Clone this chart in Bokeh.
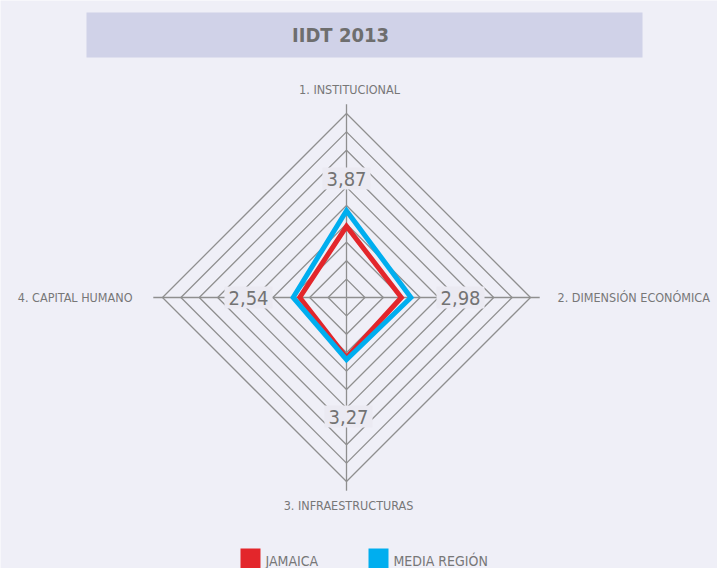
from bokeh.plotting import figure
from bokeh.models import Range1d, Label
from bokeh.embed import file_html
from bokeh.resources import INLINE

# ---- data ----
axes_names = ["1. INSTITUCIONAL", "2. DIMENSIÓN ECONÓMICA", "3. INFRAESTRUCTURAS", "4. CAPITAL HUMANO"]
jamaica = [3.87, 2.98, 3.27, 2.54]
media_region = [4.72, 3.50, 3.38, 2.90]
series_names = ["JAMAICA", "MEDIA REGIÓN"]
series_colors = ["#e3262b", "#00aeef"]
rings = [1, 2, 3, 4, 5, 6, 7, 8, 9, 10]
title_text = "IIDT 2013"

FONT = "DejaVu Sans Condensed"
GREY = "#777777"
BG = "#efeff7"

W, H = 717, 568
S = 18.4            # px per unit
CX, CY = 346, 297   # centre in reference pixels

def ux(X):
    return (X - CX) / S

def uy(Y):
    return (CY - Y) / S

p = figure(width=W, height=H, output_backend="svg", toolbar_location=None,
           x_range=Range1d(ux(0), ux(W)), y_range=Range1d(uy(H), uy(0)),
           min_border=0, background_fill_color=BG, border_fill_color=BG)
p.axis.visible = False
p.grid.visible = False
p.outline_line_color = None

# title box
p.quad(left=ux(86), right=ux(642), top=uy(12), bottom=uy(57), fill_color="#d0d2e8", line_color=None)
p.add_layout(Label(x=ux(340), y=uy(34), text=title_text, text_align="center", text_baseline="middle",
                   text_font=FONT, text_font_size="20px", text_font_style="bold", text_color="#6e6e6e"))

# grid diamonds
gx = [[0, r, 0, -r, 0] for r in rings]
gy = [[r, 0, -r, 0, r] for r in rings]
p.multi_line(gx, gy, line_color="#8f8f8f", line_width=1.3)

# axes
L = rings[-1] + 0.5
p.multi_line([[0, 0], [0, L], [0, 0], [0, -L]], [[0, L], [0, 0], [0, -L], [0, 0]],
             line_color="#8f8f8f", line_width=1.3)

# axis names
name_pos = [(ux(349), uy(89), "center"), (ux(557), uy(297), "left"), (ux(348), uy(505), "center"), (ux(132), uy(297), "right")]
for (x, y, al), nm in zip(name_pos, axes_names):
    p.add_layout(Label(x=x, y=y, text=nm, text_align=al, text_baseline="middle",
                       text_font=FONT, text_font_size="12.5px", text_color=GREY))

# value labels (Jamaica values)
val_pos = [(ux(346), uy(178)), (ux(460), uy(297)), (ux(348), uy(416)), (ux(248), uy(297))]
for (x, y), v in zip(val_pos, jamaica):
    p.add_layout(Label(x=x, y=y, text=f"{v:.2f}".replace(".", ","), text_align="center", text_baseline="middle",
                       text_font=FONT, text_font_size="20px", text_color="#737373",
                       background_fill_color="#ebeaf2", background_fill_alpha=1.0,
                       padding=4))

# series polygons
def poly(vals):
    xs = [0, vals[1], 0, -vals[3]]
    ys = [vals[0], 0, -vals[2], 0]
    return xs, ys

xr, yr = poly(jamaica)
xb, yb = poly(media_region)
p.patch(xr, yr, fill_color=None, line_color=series_colors[0], line_width=5, line_join="miter")
p.patch(xb, yb, fill_color=None, line_color=series_colors[1], line_width=5, line_join="miter")

# legend (manual)
leg_x = [240, 368]
for X, c, n in zip(leg_x, series_colors, series_names):
    p.quad(left=ux(X), right=ux(X + 20), top=uy(548), bottom=uy(568), fill_color=c, line_color=None)
    p.add_layout(Label(x=ux(X + 25), y=uy(560), text=n, text_align="left", text_baseline="middle",
                       text_font=FONT, text_font_size="14px", text_color=GREY))

open("out.html", "w").write(file_html(p, INLINE))
